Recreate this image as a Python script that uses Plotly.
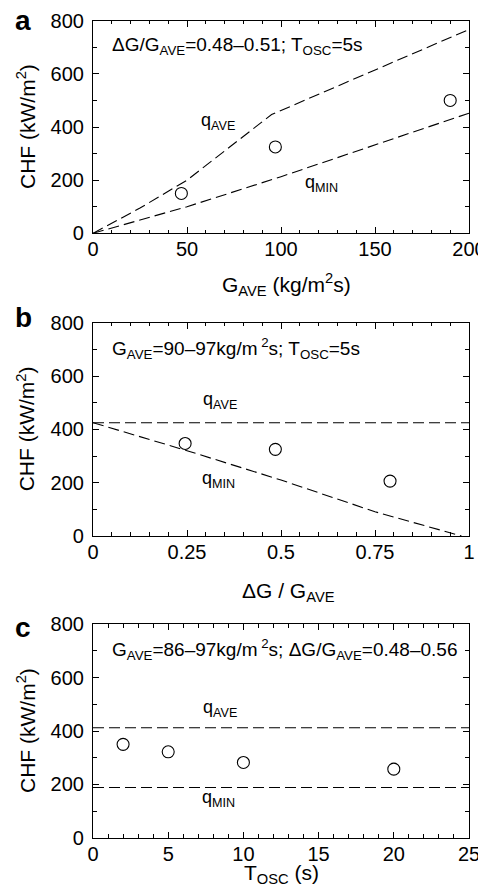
import plotly.graph_objects as go

FONT = "Liberation Sans, Arial, Helvetica, sans-serif"

# Panel a: CHF vs G_AVE
a_g_ave = [47, 97, 190]
a_chf = [150, 325, 500]
a_qave_x = [0, 25, 50, 82, 95, 200]
a_qave_y = [0, 95, 200, 376, 447, 767]
a_qmin_x = [0, 50, 100, 150, 200]
a_qmin_y = [0, 100, 213, 332, 452]

# Panel b: CHF vs dG/G_AVE
b_ratio = [0.245, 0.485, 0.79]
b_chf = [347, 325, 206]
b_qave_x = [0, 1]
b_qave_y = [425, 425]
b_qmin_x = [0, 0.25, 0.5, 0.75, 0.98]
b_qmin_y = [425, 320, 210, 91, 0]

# Panel c: CHF vs T_OSC
c_tosc = [2, 5, 10, 20]
c_chf = [350, 322, 282, 257]
c_qave_x = [0, 25]
c_qave_y = [412, 412]
c_qmin_x = [0, 25]
c_qmin_y = [188, 188]

y_ticks = [0, 200, 400, 600, 800]
a_xticks = [0, 50, 100, 150, 200]
b_xticks = [0, 0.25, 0.5, 0.75, 1]
b_xticklabels = ["0", "0.25", "0.5", "0.75", "1"]
c_xticks = [0, 5, 10, 15, 20, 25]

fig = go.Figure()

dash = "11px,5px"
line_style = dict(color="black", width=1.1, dash=dash)
marker_style = dict(symbol="circle-open", size=12, color="black", line=dict(width=1.1, color="black"))

panels = [
    ("x", "y", a_qave_x, a_qave_y, a_qmin_x, a_qmin_y, a_g_ave, a_chf),
    ("x2", "y2", b_qave_x, b_qave_y, b_qmin_x, b_qmin_y, b_ratio, b_chf),
    ("x3", "y3", c_qave_x, c_qave_y, c_qmin_x, c_qmin_y, c_tosc, c_chf),
]
for xa, ya, qax, qay, qmx, qmy, px, py in panels:
    fig.add_trace(go.Scatter(x=qax, y=qay, mode="lines", line=line_style, xaxis=xa, yaxis=ya, showlegend=False))
    fig.add_trace(go.Scatter(x=qmx, y=qmy, mode="lines", line=line_style, xaxis=xa, yaxis=ya, showlegend=False))
    fig.add_trace(go.Scatter(x=px, y=py, mode="markers", marker=marker_style, xaxis=xa, yaxis=ya, showlegend=False))

# page body has an 8px margin; figure is placed at (8, 8) in the window
OFF = 8
W, H = 478, 881
def px_x(x):
    return (x - OFF) / W
def px_y(y):
    return 1 - (y - OFF) / H

x_dom = [px_x(93), px_x(469)]
def ydom(top, bottom):
    return [px_y(bottom), px_y(top)]

tickfont = dict(family=FONT, size=20, color="black")

def axis_common():
    return dict(
        showline=True, linecolor="black", linewidth=1.2, mirror="allticks",
        ticks="inside", ticklen=6, tickwidth=1, tickcolor="black",
        showgrid=False, zeroline=False, tickfont=tickfont, automargin=False,
        fixedrange=True, ticklabeloverflow="allow",
    )

layout = dict(
    width=W, height=H,
    margin=dict(l=0, r=0, t=0, b=0),
    paper_bgcolor="white", plot_bgcolor="white",
    font=dict(family=FONT, color="black"),
)

specs = [
    ("xaxis", "yaxis", [0, 200], a_xticks, [str(v) for v in a_xticks], 10, ydom(20.7, 233.3)),
    ("xaxis2", "yaxis2", [0, 1], b_xticks, b_xticklabels, 0.05, ydom(322.7, 536)),
    ("xaxis3", "yaxis3", [0, 25], c_xticks, [str(v) for v in c_xticks], 1, ydom(624.3, 837.7)),
]
for i, (xk, yk, xr, xt, xtl, xminor, yd) in enumerate(specs):
    anchor_y = "y" if i == 0 else f"y{i+1}"
    anchor_x = "x" if i == 0 else f"x{i+1}"
    xa = axis_common()
    xa.update(range=xr, tickvals=xt, ticktext=xtl, domain=x_dom, anchor=anchor_y, ticklabelstandoff=-2,
              minor=dict(ticks="inside", dtick=xminor, tick0=0, ticklen=3.5, tickcolor="black", tickwidth=1))
    ya = axis_common()
    ya.update(range=[0, 800], tickvals=y_ticks, ticktext=[str(v) for v in y_ticks], domain=yd, anchor=anchor_x,
              ticklabelstandoff=4,
              minor=dict(ticks="inside", dtick=100, tick0=0, ticklen=3.5, tickcolor="black", tickwidth=1))
    layout[xk] = xa
    layout[yk] = ya

fig.update_layout(**layout)

ann = []
def A(text, x, y, xref, yref, size=18, xanchor="center", yanchor="middle", **kw):
    ann.append(dict(text=text, x=x, y=y, xref=xref, yref=yref, showarrow=False,
                    font=dict(family=FONT, size=size, color="black"),
                    xanchor=xanchor, yanchor=yanchor, **kw))

# panel letters
for letter, ypx in [("a", 20), ("b", 318), ("c", 627)]:
    A(f"<b>{letter}</b>", px_x(23), px_y(ypx), "paper", "paper", size=28)

# y titles
for top, bottom in [(20.7, 233.3), (322.7, 536), (624.3, 837.7)]:
    A("CHF (kW/m<sup>2</sup>)", px_x(26), px_y((top + bottom) / 2), "paper", "paper", size=21, textangle=-90)

# x titles
A("G<sub>AVE</sub> (kg/m<sup>2</sup>s)", px_x(286), px_y(284), "paper", "paper", size=21)
A("ΔG / G<sub>AVE</sub>", px_x(288), px_y(592), "paper", "paper", size=21)
A("T<sub>OSC</sub> (s)", px_x(281), px_y(874), "paper", "paper", size=21)

# condition texts
A("ΔG/G<sub>AVE</sub>=0.48–0.51; T<sub>OSC</sub>=5s", 9, 705, "x", "y", size=19, xanchor="left")
A("G<sub>AVE</sub>=90–97kg/m<sup> 2</sup>s; T<sub>OSC</sub>=5s", 0.045, 704, "x2", "y2", size=19, xanchor="left")
A("G<sub>AVE</sub>=86–97kg/m<sup> 2</sup>s; ΔG/G<sub>AVE</sub>=0.48–0.56", 1.1, 704, "x3", "y3", size=19, xanchor="left")

# q labels
A("q<sub>AVE</sub>", 66.5, 420, "x", "y")
A("q<sub>MIN</sub>", 121.6, 188, "x", "y")
A("q<sub>AVE</sub>", 0.337, 510, "x2", "y2")
A("q<sub>MIN</sub>", 0.333, 212, "x2", "y2")
A("q<sub>AVE</sub>", 8.43, 485, "x3", "y3")
A("q<sub>MIN</sub>", 8.32, 147, "x3", "y3")

fig.update_layout(annotations=ann)
fig.write_html("out.html")
